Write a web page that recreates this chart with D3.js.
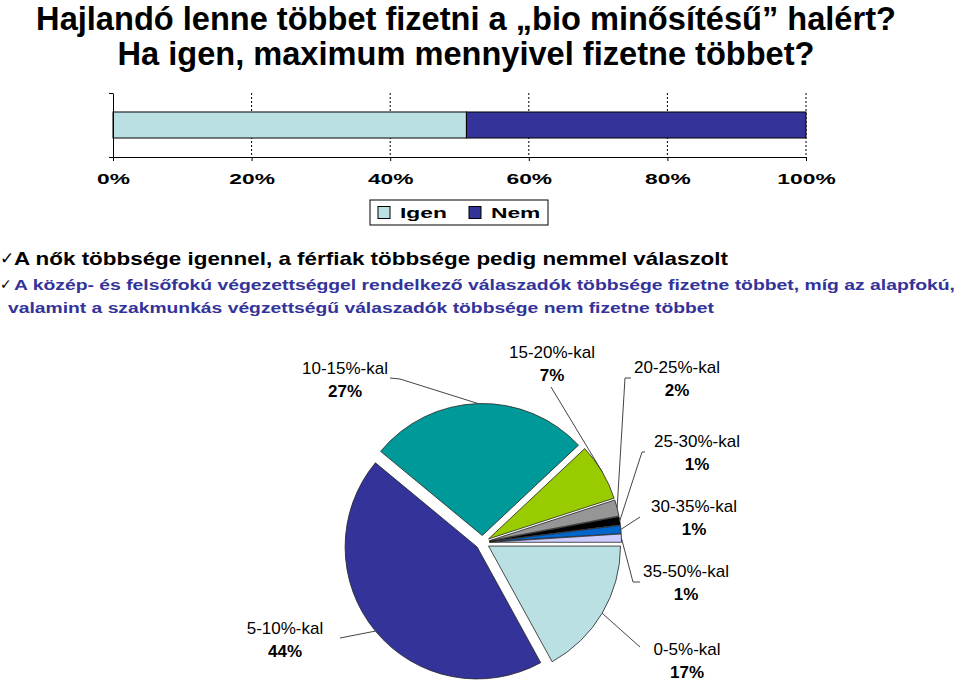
<!DOCTYPE html>
<html>
<head>
<meta charset="utf-8">
<script src="https://cdn.jsdelivr.net/npm/d3@7"></script>
<style>
  body { margin: 0; background: #fff; }
  svg { font-family: Arial, "Liberation Sans", sans-serif; }
</style>
</head>
<body>
<div id="chart"></div>
<script>
// Top stacked bar: share of answers
const answers = ["Igen", "Nem"];
const answerShares = [0.51, 0.49];
const answerColors = ["#bbe0e3", "#333399"];
const xTicks = [0, 0.2, 0.4, 0.6, 0.8, 1];

// Pie: how much more they would pay
const payCategories = ["0-5%-kal", "5-10%-kal", "10-15%-kal", "15-20%-kal", "20-25%-kal", "25-30%-kal", "30-35%-kal", "35-50%-kal"];
const payShares = [17, 44, 27, 7, 2, 1, 1, 1];
const payColors = ["#bbe0e3", "#333399", "#009999", "#99cc00", "#969696", "#000000", "#0066cc", "#ccccff"];

const titleLines = ["Hajlandó lenne többet fizetni a „bio minősítésű” halért?", "Ha igen, maximum mennyivel fizetne többet?"];
const notes = [
  "A nők többsége igennel, a férfiak többsége pedig nemmel válaszolt",
  "A közép- és felsőfokú végezettséggel rendelkező válaszadók többsége fizetne többet, míg az alapfokú,",
  "valamint a szakmunkás végzettségű válaszadók többsége nem fizetne többet"
];

const width = 960, height = 683;
const stretch = 1.52; // the slide text below the title is drawn wide

const svg = d3.select("#chart")
  .append("svg")
  .attr("width", width)
  .attr("height", height);

// Title
svg.selectAll(".title")
  .data(titleLines)
  .enter()
  .append("text")
  .attr("class", "title")
  .attr("x", 466)
  .attr("y", (d, i) => 29.5 + i * 35)
  .attr("text-anchor", "middle")
  .style("font-size", "32.6px")
  .style("font-weight", "bold")
  .text(d => d);

// ---- stacked bar ----
const plot = { left: 113, right: 806, top: 93, bottom: 157 };
const x = d3.scaleLinear().domain([0, 1]).range([plot.left, plot.right]);
const y = d3.scaleBand().domain(["all"]).range([plot.top, plot.bottom]).paddingInner(0).paddingOuter(0.73);

// dotted gridlines
svg.selectAll(".grid")
  .data(xTicks.slice(1))
  .enter()
  .append("line")
  .attr("class", "grid")
  .attr("x1", d => x(d)).attr("x2", d => x(d))
  .attr("y1", plot.top).attr("y2", plot.bottom)
  .attr("stroke", "#000")
  .attr("stroke-width", 1)
  .attr("stroke-dasharray", "2,2");

// stacked segments
let cum = 0;
const segs = answerShares.map((v, i) => { const s = { name: answers[i], x0: cum, x1: cum + v, color: answerColors[i] }; cum += v; return s; });
svg.selectAll(".seg")
  .data(segs)
  .enter()
  .append("rect")
  .attr("class", "seg")
  .attr("x", d => x(d.x0))
  .attr("width", d => x(d.x1) - x(d.x0))
  .attr("y", y("all"))
  .attr("height", y.bandwidth())
  .attr("fill", d => d.color)
  .attr("stroke", "#000")
  .attr("stroke-width", 1);

// x axis
const xAxis = svg.append("g")
  .attr("transform", `translate(0,${plot.bottom})`)
  .call(d3.axisBottom(x).tickValues(xTicks).tickFormat(d3.format(".0%")).tickSize(4).tickPadding(12));
xAxis.select(".domain").attr("stroke", "#000");
xAxis.selectAll("text")
  .attr("transform", `scale(${stretch},1)`)
  .style("font-size", "15px")
  .style("font-weight", "bold")
  .style("font-family", "Arial, 'Liberation Sans', sans-serif")
  .attr("fill", "#000");

// y axis (category boundaries)
const yLin = d3.scaleLinear().domain([0, 1]).range([plot.bottom, plot.top]);
svg.append("g")
  .attr("transform", `translate(${plot.left},0)`)
  .call(d3.axisLeft(yLin).tickValues([0, 1]).tickFormat("").tickSize(4).tickSizeOuter(0));

// legend
const legend = svg.append("g").attr("transform", "translate(370,200)");
legend.append("rect")
  .attr("width", 178).attr("height", 25)
  .attr("fill", "#fff").attr("stroke", "#000");
const legendX = [8, 99];
answers.forEach((a, i) => {
  legend.append("rect")
    .attr("x", legendX[i]).attr("y", 6.5)
    .attr("width", 12).attr("height", 12)
    .attr("fill", answerColors[i]).attr("stroke", "#000");
  legend.append("text")
    .attr("transform", `translate(${legendX[i] + 22},18) scale(${stretch},1)`)
    .style("font-size", "15px").style("font-weight", "bold")
    .text(a);
});

// ---- notes ----
const noteStyle = [
  { y: 265, size: 18.5, color: "#000", check: 17, x: 14, len: 714 },
  { y: 290, size: 13.8, color: "#333399", check: 14, x: 14, len: 941 },
  { y: 313, size: 13.8, color: "#333399", check: 0, x: 8, len: 706 }
];
notes.forEach((n, i) => {
  const s = noteStyle[i];
  if (s.check) {
    svg.append("text")
      .attr("x", 0).attr("y", s.y - 1)
      .style("font-family", "DejaVu Sans")
      .style("font-size", s.check + "px")
      .attr("fill", "#000")
      .text("✓");
  }
  svg.append("text")
    .attr("x", s.x).attr("y", s.y)
    .attr("textLength", s.len)
    .attr("lengthAdjust", "spacingAndGlyphs")
    .style("font-size", s.size + "px")
    .style("font-weight", "bold")
    .attr("fill", s.color)
    .text(n);
});

// ---- pie ----
const cx = 482.5, cy = 542.5, r = 132, explode = 7;
const startAngle = Math.PI / 2;
const pie = d3.pie().sort(null).startAngle(startAngle).endAngle(startAngle + 2 * Math.PI);
const arc = d3.arc().innerRadius(0).outerRadius(r);
const arcs = pie(payShares);

const pieG = svg.append("g").attr("transform", `translate(${cx},${cy})`);
pieG.selectAll(".slice")
  .data(arcs)
  .enter()
  .append("path")
  .attr("class", "slice")
  .attr("transform", d => {
    const a = (d.startAngle + d.endAngle) / 2;
    return `translate(${explode * Math.sin(a)},${-explode * Math.cos(a)})`;
  })
  .attr("d", arc)
  .attr("fill", (d, i) => payColors[i])
  .attr("stroke", "#222")
  .attr("stroke-width", 0.8);

// label layout (text centre, leader start points)
const labelLayout = [
  { x: 687, y: 649, lead: [[640, 647]] },
  { x: 285, y: 628, lead: [[340, 638]] },
  { x: 345, y: 368, lead: [[390, 378], [400, 379]] },
  { x: 552, y: 352, lead: [[551, 387]] },
  { x: 677, y: 367, lead: [[631, 378], [625, 378]] },
  { x: 697, y: 441, lead: [[645, 452], [642, 452]] },
  { x: 694, y: 506, lead: [[640, 517]] },
  { x: 686, y: 571, lead: [[640, 582], [633, 582]] }
];

arcs.forEach((d, i) => {
  const a = (d.startAngle + d.endAngle) / 2;
  const px = cx + (explode + r) * Math.sin(a);
  const py = cy - (explode + r) * Math.cos(a);
  const L = labelLayout[i];
  const pts = L.lead.concat([[px, py]]);
  svg.append("path")
    .attr("d", d3.line()(pts))
    .attr("fill", "none")
    .attr("stroke", "#444")
    .attr("stroke-width", 1);
  const t = svg.append("text")
    .attr("x", L.x).attr("y", L.y)
    .attr("text-anchor", "middle")
    .style("font-size", "17px");
  t.append("tspan").attr("x", L.x).attr("dy", "0.35em").text(payCategories[i]);
  t.append("tspan").attr("x", L.x).attr("dy", "23").style("font-weight", "bold").text(payShares[i] + "%");
});
</script>
</body>
</html>
